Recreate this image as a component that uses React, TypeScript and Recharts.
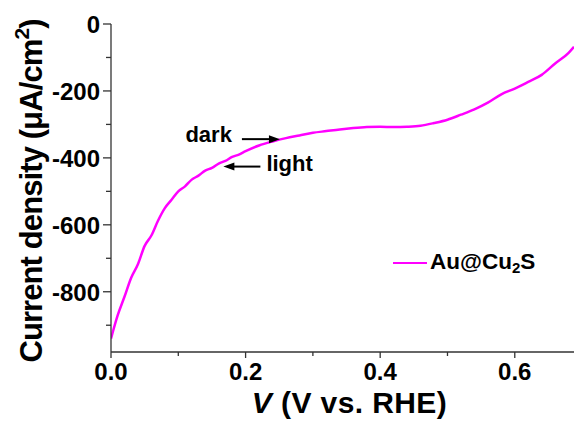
import { Label, Legend, Line, LineChart, ReferenceDot, XAxis, YAxis } from "recharts";

// Au@Cu2S photocurrent sweep.
const voltage = [
  0, 0.01, 0.02, 0.03, 0.04, 0.05, 0.06, 0.07, 0.08, 0.09, 0.1, 0.11, 0.12, 0.13, 0.14, 0.15, 0.16,
  0.17, 0.18, 0.19, 0.2, 0.22, 0.24, 0.26, 0.28, 0.3, 0.32, 0.34, 0.36, 0.38, 0.4, 0.42, 0.44, 0.46,
  0.48, 0.5, 0.52, 0.54, 0.56, 0.58, 0.6, 0.62, 0.64, 0.66, 0.68, 0.688,
];
const currentDensity = [
  -940, -870, -815, -758, -718, -663, -632, -587, -550, -525, -500, -485, -465, -453, -438, -430, -417,
  -409, -397, -390, -380, -363, -351, -341, -333, -325, -320, -315, -311, -308, -307, -308, -307, -304,
  -296, -286, -271, -255, -235, -210, -193, -173, -152, -118, -86, -68,
];
const seriesName = "Au@Cu2S";

const xTicks = [0, 0.1, 0.2, 0.3, 0.4, 0.5, 0.6];
const yTicks = [-900, -800, -700, -600, -500, -400, -300, -200, -100, 0];

// arrow tips sit on the curve, in data units
const annotations = [
  { text: "dark", v: 0.251, j: -344, dir: "right" },
  { text: "light", v: 0.167, j: -426, dir: "left" },
];

const data = voltage.map((v, i) => ({ v, j: currentDensity[i] }));

const FONT = '"Liberation Sans", Arial, Helvetica, sans-serif';
const AXIS = "#333";
const MAGENTA = "#ff00ff";

// ticks: tickSize/tickMargin are 0 so x,y land on the axis line itself
function YTick({ x, y, payload }: any) {
  const v = payload.value;
  const major = Math.round(v / 100) % 2 === 0;
  return (
    <g>
      <line x1={x - (major ? 8 : 5)} y1={y} x2={x} y2={y} stroke={AXIS} strokeWidth={1.3} />
      {major && (
        <text x={x - 11} y={y + 9} textAnchor="end" fontFamily={FONT} fontWeight="bold" fontSize={24} fill="#000">
          {v}
        </text>
      )}
    </g>
  );
}

function XTick({ x, y, payload }: any) {
  const v = payload.value;
  const major = Math.round(v * 10) % 2 === 0;
  return (
    <g>
      <line x1={x} y1={y} x2={x} y2={y + (major ? 6 : 4)} stroke={AXIS} strokeWidth={1.3} />
      {major && (
        <text x={x} y={y + 28} textAnchor="middle" fontFamily={FONT} fontWeight="bold" fontSize={24} fill="#000">
          {v.toFixed(1)}
        </text>
      )}
    </g>
  );
}

function Arrow({ cx, cy, text, dir }: any) {
  if (cx == null || cy == null) return null;
  if (dir === "right") {
    return (
      <g>
        <line x1={cx - 38} y1={cy} x2={cx - 9} y2={cy} stroke="#000" strokeWidth={2} />
        <polygon points={`${cx},${cy} ${cx - 11},${cy - 4} ${cx - 11},${cy + 4}`} fill="#000" />
        <text x={cx - 48} y={cy + 3} textAnchor="end" fontFamily={FONT} fontWeight="bold" fontSize={22} fill="#000">
          {text}
        </text>
      </g>
    );
  }
  return (
    <g>
      <line x1={cx + 9} y1={cy} x2={cx + 37} y2={cy} stroke="#000" strokeWidth={2} />
      <polygon points={`${cx},${cy} ${cx + 11},${cy - 4} ${cx + 11},${cy + 4}`} fill="#000" />
      <text x={cx + 43} y={cy + 4} fontFamily={FONT} fontWeight="bold" fontSize={22} fill="#000">
        {text}
      </text>
    </g>
  );
}

function XTitle({ viewBox }: any) {
  const x = viewBox.x + viewBox.width / 2 + 7;
  const y = viewBox.y + 61;
  return (
    <text x={x} y={y} textAnchor="middle" fontFamily={FONT} fontWeight="bold" fontSize={30} letterSpacing={0.4} fill="#000">
      <tspan fontStyle="italic">V</tspan>
      <tspan> (V vs. RHE)</tspan>
    </text>
  );
}

function YTitle({ viewBox }: any) {
  const x = 42;
  const y = viewBox.y + viewBox.height / 2 + 3;
  return (
    <text
      x={x}
      y={y}
      transform={`rotate(-90, ${x}, ${y})`}
      textAnchor="middle"
      fontFamily={FONT}
      fontWeight="bold"
      fontSize={31}
      letterSpacing={-0.9}
      fill="#000"
    >
      <tspan>Current density (μA/cm</tspan>
      <tspan fontSize={21} dy={-13}>2</tspan>
      <tspan dy={13}>)</tspan>
    </text>
  );
}

function LegendBox() {
  return (
    <div style={{ display: "flex", alignItems: "center", fontFamily: FONT, fontWeight: "bold", fontSize: 22.5, lineHeight: 1, color: "#000" }}>
      <span style={{ display: "inline-block", width: 34, height: 2.5, background: MAGENTA, marginRight: 3 }} />
      <span>
        Au@Cu<sub style={{ fontSize: 15, verticalAlign: -4 }}>2</sub>S
      </span>
    </div>
  );
}

export default function App() {
  return (
    <div style={{ position: "absolute", left: 0, top: 0, width: 574, height: 421, background: "#fff", overflow: "hidden" }}>
      <LineChart width={574} height={421} data={data} margin={{ top: 24, right: 0, bottom: 0, left: 0 }}>
        <XAxis
          xAxisId="b"
          dataKey="v"
          type="number"
          domain={[0, 0.688]}
          allowDataOverflow
          ticks={xTicks}
          interval={0}
          height={69}
          tickSize={0}
          tickMargin={0}
          tickLine={false}
          tick={<XTick />}
          stroke={AXIS}
          strokeWidth={1.3}
        >
          <Label content={XTitle} />
        </XAxis>
        <XAxis
          xAxisId="t"
          orientation="top"
          dataKey="v"
          type="number"
          domain={[0, 0.688]}
          allowDataOverflow
          ticks={xTicks}
          interval={0}
          height={0}
          mirror
          tickSize={4}
          tick={false}
          stroke={AXIS}
          strokeWidth={1.3}
        />
        <YAxis
          type="number"
          domain={[-980, 0]}
          allowDataOverflow
          ticks={yTicks}
          interval={0}
          width={111}
          tickSize={0}
          tickMargin={0}
          tickLine={false}
          tick={<YTick />}
          stroke={AXIS}
          strokeWidth={1.3}
        >
          <Label content={YTitle} />
        </YAxis>
        <Legend
          layout="horizontal"
          verticalAlign="middle"
          align="center"
          content={() => <LegendBox />}
          wrapperStyle={{ position: "absolute", left: 393, top: 251, width: "auto" }}
        />
        <Line
          xAxisId="b"
          name={seriesName}
          dataKey="j"
          type="monotone"
          stroke={MAGENTA}
          strokeWidth={2.5}
          dot={false}
          isAnimationActive={false}
        />
        {annotations.map((a) => (
          <ReferenceDot
            key={a.text}
            xAxisId="b"
            x={a.v}
            y={a.j}
            r={0}
            shape={(p: any) => <Arrow cx={p.cx} cy={p.cy} text={a.text} dir={a.dir} />}
          />
        ))}
      </LineChart>
    </div>
  );
}
